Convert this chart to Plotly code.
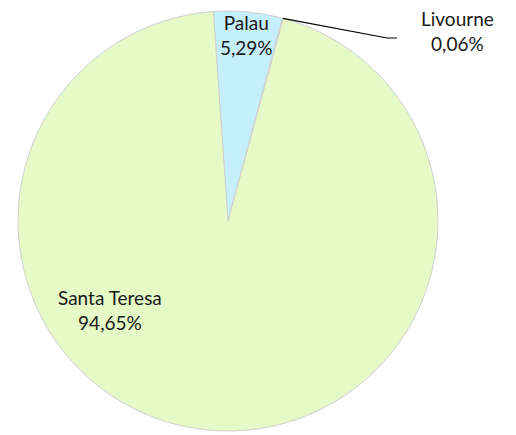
import math
import plotly.graph_objects as go

labels = ["Palau", "Livourne", "Santa Teresa"]
values = [5.29, 0.06, 94.65]
colors = ["#C6EFFC", "#C6EFFC", "#E5FAC6"]

W, H = 516, 435
OFF = 8  # page body margin offset
cx, cy, r = 228 - OFF, 221 - OFF, 210  # pixel geometry of the pie
rotation = -4

def px(x):
    return x / W

def py(y):
    return 1 - y / H

fig = go.Figure(go.Pie(
    labels=labels, values=values, sort=False, direction="clockwise",
    rotation=rotation, textinfo="none", hoverinfo="label+percent",
    marker=dict(colors=colors, line=dict(color="#D0D0D0", width=1)),
    domain=dict(x=[px(cx - r), px(cx + r)], y=[py(cy + r), py(cy - r)]),
    showlegend=False,
))

total = sum(values)
def pct(v):
    return f"{100 * v / total:.2f}%".replace(".", ",")

label_pos = {"Palau": (246, 35), "Livourne": (457, 31), "Santa Teresa": (110, 310)}
font = dict(family="Lato, Open Sans, sans-serif", size=19, color="#1a1a1a")
for lab, v in zip(labels, values):
    x, y = label_pos[lab]
    fig.add_annotation(x=px(x - OFF), y=py(y - OFF), xref="paper", yref="paper",
                       text=f"{lab}<br>{pct(v)}", showarrow=False, borderpad=0,
                       xanchor="center", yanchor="middle", font=font, align="center")

# leader line for Livourne from slice edge
cum = values[0] + values[1] / 2
ang = math.radians(rotation + 360 * cum / total)
sx, sy = cx + r * math.sin(ang), cy - r * math.cos(ang)
fig.add_shape(type="path", xref="paper", yref="paper",
              path=f"M {px(sx)},{py(sy)} L {px(387 - OFF)},{py(38 - OFF)} L {px(397 - OFF)},{py(38 - OFF)}",
              line=dict(color="black", width=1.2))

fig.update_layout(width=W, height=H, margin=dict(l=0, r=0, t=0, b=0),
                  paper_bgcolor="white", plot_bgcolor="white")
fig.write_html("out.html")
